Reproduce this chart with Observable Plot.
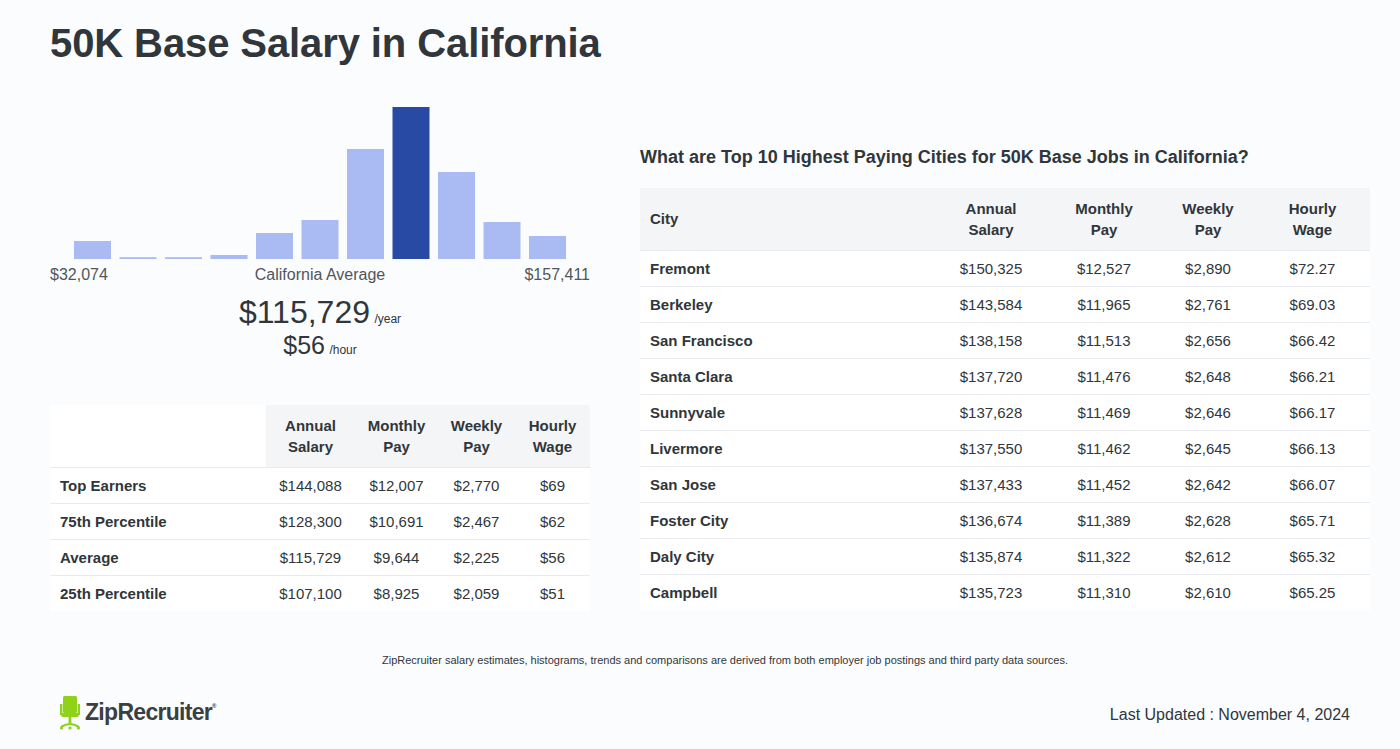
<!DOCTYPE html>
<html>
<head>
<meta charset="utf-8">
<script src="https://cdn.jsdelivr.net/npm/d3@7"></script>
<script src="https://cdn.jsdelivr.net/npm/@observablehq/plot@0.6"></script>
<style>
  html, body { margin: 0; padding: 0; }
  body { width: 1400px; height: 749px; background: #fbfcfe; font-family: "Liberation Sans", Arial, sans-serif; color: #30363a; position: relative; overflow: hidden; }
  .abs { position: absolute; }
  h1 { position: absolute; left: 50px; top: 21px; margin: 0; font-size: 40px; font-weight: bold; color: #30363a; letter-spacing: -0.1px; }
  table { border-collapse: collapse; table-layout: fixed; font-size: 15px; color: #30363a; }
  th { font-weight: bold; line-height: 21px; padding: 0; }
  td { padding: 0; height: 35px; border-top: 1px solid #e8eaed; background: #fff; text-align: center; }
  td.lab { text-align: left; padding-left: 10px; font-weight: bold; }
  th.g { background: #f4f5f7; }
  th.w { background: #fff; }
</style>
</head>
<body>
<h1>50K Base Salary in California</h1>
<div id="hist" class="abs" style="left:50px; top:95px;"></div>
<div class="abs" style="left:50px; top:266px; font-size:16px; color:#50565a;">$32,074</div>
<div class="abs" style="left:50px; width:540px; top:266px; font-size:16px; color:#50565a; text-align:center;">California Average</div>
<div class="abs" style="left:50px; width:540px; top:266px; font-size:16px; color:#50565a; text-align:right;">$157,411</div>
<div class="abs" style="left:50px; width:540px; top:294px; text-align:center; color:#30363a;"><span style="font-size:32px;">$115,729</span> <span style="font-size:12px;">/year</span></div>
<div class="abs" style="left:50px; width:540px; top:331px; text-align:center; color:#30363a;"><span style="font-size:25px;">$56</span> <span style="font-size:12px;">/hour</span></div>

<div id="lefttable" class="abs" style="left:50px; top:405px;"></div>

<div class="abs" style="left:640px; top:147px; font-size:18px; font-weight:bold; color:#30363a;">What are Top 10 Highest Paying Cities for 50K Base Jobs in California?</div>
<div id="righttable" class="abs" style="left:640px; top:188px;"></div>

<div class="abs" style="left:0; width:1450px; top:654px; font-size:11px; text-align:center; color:#30363a;">ZipRecruiter salary estimates, histograms, trends and comparisons are derived from both employer job postings and third party data sources.</div>

<div class="abs" style="left:59px; top:695px;">
  <svg width="24" height="36" viewBox="0 0 24 36">
    <g fill="#8fd219" stroke="#8fd219">
      <rect x="4" y="1" width="14" height="17" rx="1.5" stroke="none"/>
      <rect x="1" y="9" width="2.4" height="11" stroke="none"/>
      <rect x="18.6" y="9" width="2.4" height="11" stroke="none"/>
      <rect x="2" y="18" width="18" height="4" rx="2" stroke="none"/>
      <rect x="9.6" y="22" width="2.8" height="7" stroke="none"/>
      <path d="M2 32 Q11 26 20 32" fill="none" stroke-width="2.2"/>
      <circle cx="2.5" cy="33" r="1.6" stroke="none"/>
      <circle cx="19.5" cy="33" r="1.6" stroke="none"/>
      <circle cx="11" cy="33" r="1.6" stroke="none"/>
    </g>
  </svg>
</div>
<div class="abs" style="left:85px; top:699px; font-size:23px; font-weight:bold; color:#3a3f44; letter-spacing:-0.7px;">ZipRecruiter<sup style="font-size:6px; vertical-align:top; position:relative; top:4px;">®</sup></div>
<div class="abs" style="right:50px; top:706px; font-size:16px; color:#30363a;">Last Updated : November 4, 2024</div>

<script>
// Histogram data (relative bar heights)
const bins = [1, 2, 3, 4, 5, 6, 7, 8, 9, 10, 11];
const counts = [18, 1.8, 1.8, 4, 26, 39, 110, 152, 87, 37, 23];
const highlightBin = 8;

// Left table
const leftRows = ["Top Earners", "75th Percentile", "Average", "25th Percentile"];
const leftAnnual = ["$144,088", "$128,300", "$115,729", "$107,100"];
const leftMonthly = ["$12,007", "$10,691", "$9,644", "$8,925"];
const leftWeekly = ["$2,770", "$2,467", "$2,225", "$2,059"];
const leftHourly = ["$69", "$62", "$56", "$51"];

// Right table
const cities = ["Fremont", "Berkeley", "San Francisco", "Santa Clara", "Sunnyvale", "Livermore", "San Jose", "Foster City", "Daly City", "Campbell"];
const cityAnnual = ["$150,325", "$143,584", "$138,158", "$137,720", "$137,628", "$137,550", "$137,433", "$136,674", "$135,874", "$135,723"];
const cityMonthly = ["$12,527", "$11,965", "$11,513", "$11,476", "$11,469", "$11,462", "$11,452", "$11,389", "$11,322", "$11,310"];
const cityWeekly = ["$2,890", "$2,761", "$2,656", "$2,648", "$2,646", "$2,645", "$2,642", "$2,628", "$2,612", "$2,610"];
const cityHourly = ["$72.27", "$69.03", "$66.42", "$66.21", "$66.17", "$66.13", "$66.07", "$65.71", "$65.32", "$65.25"];

const histData = bins.map((b, i) => ({bin: b, count: counts[i], fill: b === highlightBin ? "#284aa5" : "#aabaf2"}));

const chart = Plot.plot({
  width: 540,
  height: 170,
  marginLeft: 24,
  marginRight: 24,
  marginTop: 12,
  marginBottom: 6,
  style: {background: "transparent"},
  x: {type: "band", domain: bins, paddingInner: 0.187, paddingOuter: 0, round: false, axis: null},
  y: {domain: [0, 152], axis: null},
  color: {type: "identity"},
  marks: [
    Plot.barY(histData, {x: "bin", y: "count", fill: "fill"})
  ]
});
document.getElementById("hist").appendChild(chart);

function buildTable(el, widths, headers, firstHeaderGray, rowLabels, cols) {
  let html = `<table style="width:${widths.reduce((a,b)=>a+b,0)}px"><colgroup>` + widths.map(w => `<col style="width:${w}px">`).join("") + `</colgroup>`;
  html += `<tr style="height:62px">` + headers.map((h, i) => {
    if (i === 0) return `<th class="${firstHeaderGray ? 'g' : 'w'}" style="text-align:left; padding-left:10px;">${h}</th>`;
    return `<th class="g" style="text-align:center;">${h}</th>`;
  }).join("") + `</tr>`;
  rowLabels.forEach((r, i) => {
    html += `<tr><td class="lab">${r}</td>` + cols.map(c => `<td>${c[i]}</td>`).join("") + `</tr>`;
  });
  html += `</table>`;
  el.innerHTML = html;
}

buildTable(document.getElementById("lefttable"), [216, 89, 83, 77, 75],
  ["", "Annual<br>Salary", "Monthly<br>Pay", "Weekly<br>Pay", "Hourly<br>Wage"], false,
  leftRows, [leftAnnual, leftMonthly, leftWeekly, leftHourly]);

buildTable(document.getElementById("righttable"), [295, 112, 114, 94, 115],
  ["City", "Annual<br>Salary", "Monthly<br>Pay", "Weekly<br>Pay", "Hourly<br>Wage"], true,
  cities, [cityAnnual, cityMonthly, cityWeekly, cityHourly]);
</script>
</body>
</html>
